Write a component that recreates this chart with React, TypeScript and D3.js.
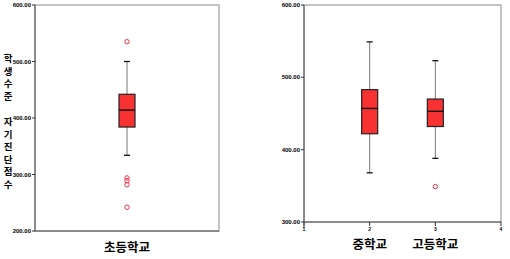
import React from "react";
import * as d3 from "d3";

// Left panel: elementary school
const leftCategories = ["초등학교"];
const leftTicks = [200, 300, 400, 500, 600];
const leftBox = [{ cat: "초등학교", min: 334, q1: 384, median: 414, q3: 442, max: 500 }];
const leftOutliers = [535, 294, 289, 282, 242];

// Right panel: middle & high school
const rightCategories = ["중학교", "고등학교"];
const rightCodes = [2, 3];
const rightXTicks = [1, 2, 3, 4];
const rightTicks = [300, 400, 500, 600];
const rightBoxes = [
  { cat: "중학교", min: 368, q1: 422, median: 457, q3: 483, max: 549 },
  { cat: "고등학교", min: 388, q1: 432, median: 453, q3: 470, max: 523 },
];
const rightOutliers = [{ cat: "고등학교", value: 349 }];

const yTitle = "학생수준 자기진단점수";

const BOX_FILL = "#f83232";
const tickFont = { fontSize: 6, fontWeight: 700, fontFamily: "Liberation Sans, Arial, sans-serif" } as const;
const catFont = { fontSize: 12.5, fontWeight: 700, fontFamily: "Noto Sans CJK KR, sans-serif" } as const;

function BoxMark({ x, y, d, w }: { x: number; y: d3.ScaleLinear<number, number>; d: any; w: number }) {
  const cap = 6;
  return (
    <g>
      <line x1={x} x2={x} y1={y(d.max)} y2={y(d.q3)} stroke="#777" strokeWidth={1} />
      <line x1={x} x2={x} y1={y(d.q1)} y2={y(d.min)} stroke="#777" strokeWidth={1} />
      <line x1={x - cap / 2} x2={x + cap / 2} y1={y(d.max)} y2={y(d.max)} stroke="#111" strokeWidth={1.3} />
      <line x1={x - cap / 2} x2={x + cap / 2} y1={y(d.min)} y2={y(d.min)} stroke="#111" strokeWidth={1.3} />
      <rect x={x - w / 2} y={y(d.q3)} width={w} height={y(d.q1) - y(d.q3)} fill={BOX_FILL} stroke="#222" strokeWidth={1.2} />
      <line x1={x - w / 2} x2={x + w / 2} y1={y(d.median)} y2={y(d.median)} stroke="#111" strokeWidth={1.4} />
    </g>
  );
}

export default function App() {
  // Left panel geometry
  const L = { x0: 35, x1: 219, y0: 5, y1: 231 };
  const yL = d3.scaleLinear().domain([200, 600]).range([L.y1, L.y0]);
  const xL = d3.scaleBand().domain(leftCategories).range([L.x0, L.x1]);

  // Right panel geometry
  const R = { x0: 304, x1: 501, y0: 5, y1: 222 };
  const yR = d3.scaleLinear().domain([300, 600]).range([R.y1, R.y0]);
  const xR = d3.scaleLinear().domain([1, 4]).range([R.x0, R.x1]);
  const codeOf = (c: string) => rightCodes[rightCategories.indexOf(c)];

  return (
    <svg width={510} height={259} style={{ position: "absolute", left: 0, top: 0, background: "#fff" }}>
      {/* Left panel frame */}
      <rect x={L.x0} y={L.y0} width={L.x1 - L.x0} height={L.y1 - L.y0} fill="none" stroke="#888" strokeWidth={1} />
      <line x1={L.x0} x2={L.x0} y1={L.y0} y2={L.y1} stroke="#555" strokeWidth={1} />
      <line x1={L.x0} x2={L.x1} y1={L.y1} y2={L.y1} stroke="#555" strokeWidth={1} />
      {leftTicks.map((t) => (
        <g key={t}>
          <line x1={L.x0 - 3} x2={L.x0} y1={yL(t)} y2={yL(t)} stroke="#333" />
          <text x={L.x0 - 4} y={yL(t)} dy="0.35em" textAnchor="end" {...tickFont}>
            {d3.format(".2f")(t)}
          </text>
        </g>
      ))}
      {leftBox.map((d) => {
        const cx = (xL(d.cat) as number) + xL.bandwidth() / 2;
        return <BoxMark key={d.cat} x={cx} y={yL} d={d} w={16} />;
      })}
      {leftOutliers.map((v, i) => (
        <circle key={i} cx={(xL(leftCategories[0]) as number) + xL.bandwidth() / 2} cy={yL(v)} r={2.2} fill="none" stroke="#e34" strokeWidth={1} />
      ))}
      {leftCategories.map((c) => (
        <text key={c} x={(xL(c) as number) + xL.bandwidth() / 2} y={252} textAnchor="middle" {...catFont}>
          {c}
        </text>
      ))}
      {/* Vertical y title */}
      {Array.from(yTitle).map((ch, i) => (
        <text key={i} x={8} y={62 + i * 12.6} textAnchor="middle" {...catFont} fontSize={9.5}>
          {ch}
        </text>
      ))}

      {/* Right panel frame */}
      <rect x={R.x0} y={R.y0} width={R.x1 - R.x0} height={R.y1 - R.y0} fill="none" stroke="#888" strokeWidth={1} />
      <line x1={R.x0} x2={R.x0} y1={R.y0} y2={R.y1 + 6} stroke="#555" strokeWidth={1} />
      <line x1={R.x0} x2={R.x1} y1={R.y1} y2={R.y1} stroke="#555" strokeWidth={1} />
      {rightTicks.map((t) => (
        <g key={t}>
          <line x1={R.x0 - 3} x2={R.x0} y1={yR(t)} y2={yR(t)} stroke="#333" />
          <text x={R.x0 - 4} y={yR(t)} dy="0.35em" textAnchor="end" {...tickFont}>
            {d3.format(".2f")(t)}
          </text>
        </g>
      ))}
      {rightXTicks.map((t) => (
        <g key={t}>
          <line x1={xR(t)} x2={xR(t)} y1={R.y1} y2={R.y1 + 4} stroke="#333" />
          <text x={xR(t)} y={R.y1 + 9} textAnchor="middle" {...tickFont} fontSize={5}>
            {t}
          </text>
        </g>
      ))}
      {rightBoxes.map((d) => (
        <BoxMark key={d.cat} x={xR(codeOf(d.cat))} y={yR} d={d} w={16} />
      ))}
      {rightOutliers.map((o, i) => (
        <circle key={i} cx={xR(codeOf(o.cat))} cy={yR(o.value)} r={2.2} fill="none" stroke="#e34" strokeWidth={1} />
      ))}
      {rightCategories.map((c) => (
        <text key={c} x={xR(codeOf(c))} y={249} textAnchor="middle" {...catFont}>
          {c}
        </text>
      ))}
    </svg>
  );
}
